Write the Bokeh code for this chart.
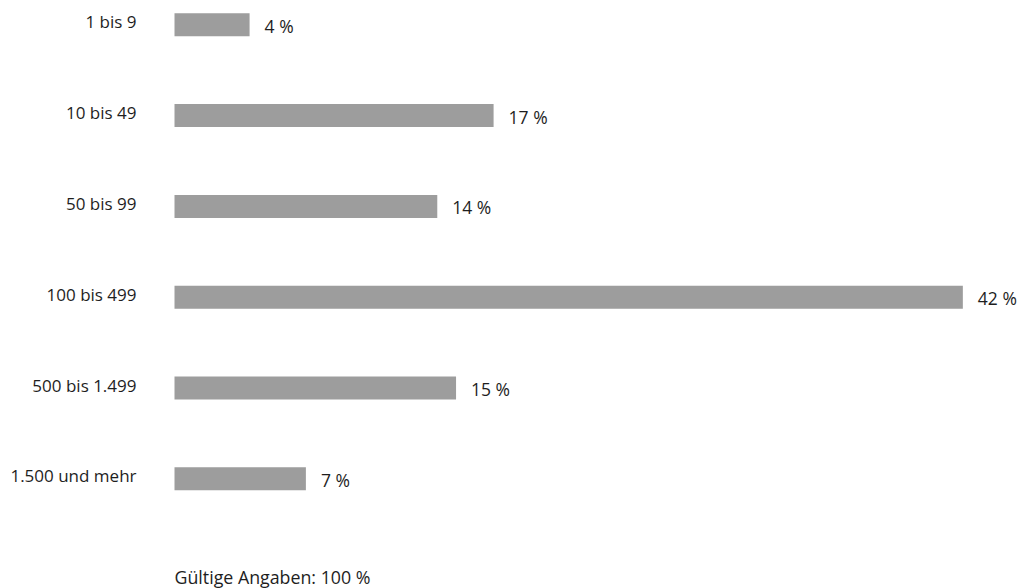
from bokeh.plotting import figure
from bokeh.models import Range1d, ColumnDataSource, Label
from bokeh.embed import file_html
from bokeh.resources import INLINE
from bokeh.core.properties import value

categories = ["1 bis 9", "10 bis 49", "50 bis 99", "100 bis 499", "500 bis 1.499", "1.500 und mehr"]
values = [4, 17, 14, 42, 15, 7]
footnote = "Gültige Angaben: 100 %"

FONT = "Open Sans"
TXT = "#1e1e1e"
BAR = "#9d9d9d"

W, H = 1023, 588
left_px = 174
px_per_unit = 18.77
first_center = 24.3
step = 90.8

idx = list(range(len(categories)))
src = ColumnDataSource(dict(
    y=idx,
    v=values,
    cat=categories,
    lab=[f"{v} %" for v in values],
    zero=[0] * len(values),
))

p = figure(width=W, height=H, output_backend="svg", toolbar_location=None,
           min_border=0, min_border_left=0, min_border_right=0,
           min_border_top=0, min_border_bottom=0,
           x_range=Range1d(-left_px / px_per_unit, (W - left_px) / px_per_unit),
           y_range=Range1d((H - first_center) / step, -first_center / step))
p.axis.visible = False
p.grid.visible = False
p.outline_line_color = None
p.background_fill_color = "white"
p.border_fill_color = "white"

p.hbar(y="y", left="zero", right="v", height=23 / step, source=src,
       fill_color=BAR, line_color=None)

p.text(x="v", y="y", text="lab", source=src, x_offset=15, y_offset=1,
       text_align="left", text_baseline="middle", text_font=value(FONT),
       text_font_size="17.5px", text_color=TXT)

p.text(x="zero", y="y", text="cat", source=src, x_offset=-38, y_offset=-3,
       text_align="right", text_baseline="middle", text_font=value(FONT),
       text_font_size="17px", text_color=TXT)

p.add_layout(Label(x=0, y=(576 - first_center) / step, text=footnote,
                   text_align="left", text_baseline="middle", text_font=FONT,
                   text_font_size="17.8px", text_color=TXT))

open("out.html", "w").write(file_html(p, INLINE))
